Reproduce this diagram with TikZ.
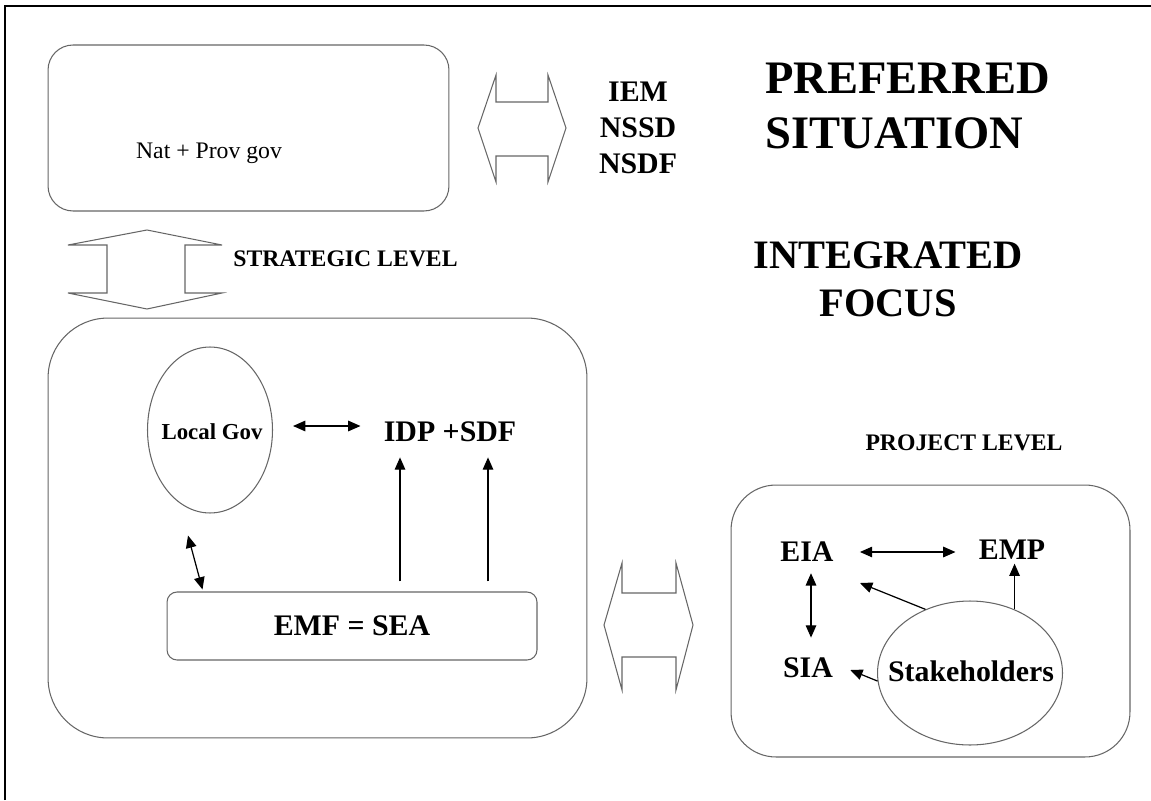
\documentclass[tikz,border=0pt]{standalone}
\usepackage{fontspec}
\setmainfont{Liberation Serif}
\usetikzlibrary{arrows.meta,shapes.geometric}

\begin{document}
\begin{tikzpicture}[x=0.02cm,y=-0.02cm,
        box/.style={draw=black!60,line width=0.6pt,rounded corners=#1},
        oval/.style={ellipse,draw=black!60,line width=0.6pt},
        lbl/.style={font=\bfseries\fontsize{17}{20.4}\selectfont},
        lvl/.style={font=\bfseries\fontsize{13.5}{16}\selectfont},
        dbl/.style={{Triangle[length=7pt,width=6pt]}-{Triangle[length=7pt,width=6pt]},line width=0.7pt},
        arr/.style={-{Triangle[length=7pt,width=6pt]},line width=0.7pt},
        hollow/.style={draw=black!60,line width=0.6pt,line join=miter}]
        \tikzstyle{every node}+=[inner sep=0pt]
        \useasboundingbox (0,0) rectangle (1151,800);
        \draw [black,line width=1.7pt] (5,800) -- (5,6) -- (1151,6);
        % strategic side
        \node [box=0.5cm,minimum width=8.02cm,minimum height=3.32cm] (natbox) at (248.5,128) {};
        \node [font=\fontsize{13.5}{16}\selectfont] (nat) at (209,153) {Nat + Prov gov};
        \draw [hollow] (478,128) -- (496,75) -- (496,102) -- (548,102) -- (548,75) -- (566,128)
                -- (548,182) -- (548,156) -- (496,156) -- (496,182) -- cycle;
        \node [lbl,align=center] (iem) at (638,128) {IEM\\NSSD\\NSDF};
        \node [font=\bfseries\fontsize{26.5}{31.2}\selectfont,align=left,anchor=west] (pref) at (765,106) {PREFERRED\\SITUATION};
        \draw [hollow] (147,230) -- (222,245) -- (185,245) -- (185,293) -- (222,293) -- (147,309)
                -- (68,293) -- (107,293) -- (107,245) -- (68,245) -- cycle;
        \node [lvl,anchor=west] (strat) at (233,259) {STRATEGIC LEVEL};
        \node [font=\bfseries\fontsize{23}{27.2}\selectfont,align=center] (integ) at (888,279) {INTEGRATED\\FOCUS};
        % local level
        \node [box=1.2cm,minimum width=10.78cm,minimum height=8.4cm] (localbox) at (317.5,528) {};
        \node [oval,minimum width=2.5cm,minimum height=3.32cm] (localgov) at (210,430) {};
        \node [font=\bfseries\fontsize{13}{16}\selectfont] (localtxt) at (212,432) {Local Gov};
        \node [lbl] (idp) at (450,432) {IDP +SDF};
        \node [box=0.2cm,lbl,minimum width=7.4cm,minimum height=1.36cm] (emfbox) at (352,626) {EMF = SEA};
        \draw [dbl] ([shift={(20,-4)}]localgov.east) -- ([shift={(-23,-6)}]idp.west);
        \draw [dbl] ([shift={(-22,22)}]localgov.south) -- ([shift={(36,-2)}]emfbox.north west);
        \draw [arr] ([shift={(48,-10)}]emfbox.north) -- ([shift={(-50,15)}]idp.south);
        \draw [arr] ([shift={(136,-10)}]emfbox.north) -- ([shift={(38,15)}]idp.south);
        \draw [hollow] (604,625) -- (622,563) -- (622,593) -- (676,593) -- (676,563) -- (693,625)
                -- (676,690) -- (676,657) -- (622,657) -- (622,690) -- cycle;
        % project level
        \node [lvl] (proj) at (964,443) {PROJECT LEVEL};
        \node [box=0.9cm,minimum width=7.98cm,minimum height=5.44cm] (projbox) at (930.5,621) {};
        \node [lbl] (eia) at (807,552) {EIA};
        \node [lbl] (emp) at (1012,550) {EMP};
        \node [lbl] (sia) at (808,668) {SIA};
        \node [oval,minimum width=3.7cm,minimum height=2.88cm] (stake) at (970,673) {};
        \node [lbl] (staketxt) at (971,671) {Stakeholders};
        \draw [dbl] ([shift={(26,0)}]eia.east) -- ([shift={(-23,2)}]emp.west);
        \draw [dbl] ([shift={(4,11)}]eia.south) -- ([shift={(3,-20)}]sia.north);
        \draw [arr] (stake.125.5) -- ([shift={(53,31)}]eia.center);
        \draw [arr,shorten >=2pt] (stake.55) -- (stake.55 |- emp.south);
        \draw [arr] (stake.185) -- ([shift={(17,2)}]sia.east);
\end{tikzpicture}
\end{document}
